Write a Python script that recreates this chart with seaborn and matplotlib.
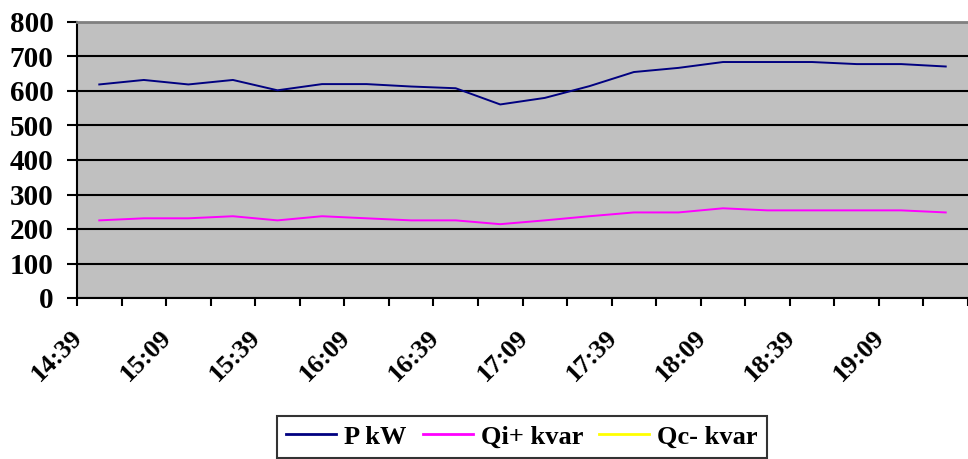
import matplotlib
matplotlib.use("Agg")
import matplotlib.pyplot as plt
import matplotlib.transforms as mtransforms
from matplotlib.lines import Line2D
import numpy as np
import pandas as pd
import seaborn as sns

# ---- data ----
times = ["14:39", "14:54", "15:09", "15:24", "15:39", "15:54", "16:09", "16:24",
         "16:39", "16:54", "17:09", "17:24", "17:39", "17:54", "18:09", "18:24",
         "18:39", "18:54", "19:09", "19:24"]
p_kw = [619, 632, 619, 632, 602, 620, 620, 613, 608, 561,
        580, 614, 655, 667, 684, 684, 684, 678, 678, 671]
qi_kvar = [225, 231, 231, 237, 225, 237, 231, 225, 225, 214,
           225, 237, 248, 248, 260, 254, 254, 254, 254, 248]
qc_kvar = [0, 0, 0, 0, 0, 0, 0, 0, 0, 0, 0, 0, 0, 0, 0, 0, 0, 0, 0, 0]
series_names = ["P kW", "Qi+ kvar", "Qc- kvar"]
y_ticks = [0, 100, 200, 300, 400, 500, 600, 700, 800]

colors = ["#000080", "#FF00FF", "#FFFF00"]

df = pd.DataFrame({
    "idx": list(range(len(times))) * 3,
    "value": p_kw + qi_kvar + qc_kvar,
    "series": [series_names[0]] * len(times) + [series_names[1]] * len(times)
              + [series_names[2]] * len(times),
})

plt.rcParams["font.family"] = ["Liberation Serif", "DejaVu Serif"]
plt.rcParams["font.weight"] = "bold"

fig = plt.figure(figsize=(9.68, 4.59), dpi=100)
ax = fig.add_axes([77 / 968, 1 - 298 / 459, 1 - 77 / 968, (298 - 22) / 459])
ax.set_facecolor("#C0C0C0")

sns.lineplot(data=df, x="idx", y="value", hue="series", palette=colors,
             hue_order=series_names, linewidth=1.4, ax=ax, legend=False)

ax.set_xlim(-0.5, len(times) - 0.5)
ax.set_ylim(0, 800)
ax.set_yticks(y_ticks)
ax.set_yticklabels([str(v) for v in y_ticks], fontsize=21, fontweight="bold")
ax.yaxis.grid(True, color="black", linewidth=1.5)
ax.xaxis.grid(False)
ax.set_axisbelow(True)
ax.tick_params(axis="y", direction="out", length=7, width=1.5, pad=10, color="black")

# major ticks at category boundaries (no labels), minor ticks at centers with labels
ax.set_xticks(np.arange(-0.5, len(times), 1.0))
ax.set_xticklabels([])
ax.tick_params(axis="x", which="major", direction="out", length=6, width=1.5)
label_pos = list(range(0, len(times), 2))
ax.set_xticks(label_pos, minor=True)
ax.set_xticklabels([times[i] for i in label_pos], minor=True, rotation=45,
                   ha="right", fontsize=19, fontweight="bold")
ax.tick_params(axis="x", which="minor", length=0, pad=20)
offset = mtransforms.ScaledTranslation(-12 / 100, 0, fig.dpi_scale_trans)
for lab in ax.get_xticklabels(minor=True):
    lab.set_transform(lab.get_transform() + offset)

ax.set_xlabel("")
ax.set_ylabel("")
for s in ["left", "bottom"]:
    ax.spines[s].set_color("black")
    ax.spines[s].set_linewidth(1.5)
ax.spines["top"].set_color("#808080")
ax.spines["top"].set_linewidth(2)
ax.spines["right"].set_visible(False)

handles = [Line2D([0], [0], color=c, linewidth=2) for c in colors]
leg = fig.legend(handles, series_names, loc="upper center",
                 bbox_to_anchor=(522 / 968, 1 - 416 / 459), ncol=3,
                 prop={"family": "Liberation Serif", "weight": "bold", "size": 19},
                 frameon=True, fancybox=False, edgecolor="black",
                 handlelength=1.9, handletextpad=0.3, columnspacing=0.6,
                 borderpad=0.35, borderaxespad=0)
leg.get_frame().set_linewidth(1.5)

fig.savefig("out.png", dpi=100)
